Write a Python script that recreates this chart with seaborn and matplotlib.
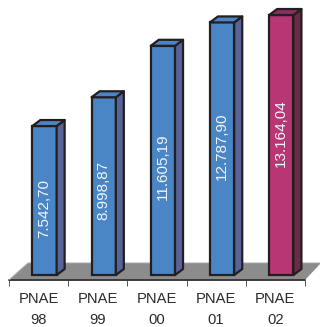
import matplotlib
matplotlib.use('Agg')
import matplotlib.pyplot as plt
import pandas as pd
import seaborn as sns
from matplotlib.patches import Polygon

# ── Data ──────────────────────────────────────────────────────────────────────
categories = ['PNAE\n98', 'PNAE\n99', 'PNAE\n00', 'PNAE\n01', 'PNAE\n02']
values = [7542.70, 8998.87, 11605.19, 12787.90, 13164.04]
value_labels = ['7.542,70', '8.998,87', '11.605,19', '12.787,90', '13.164,04']
front_colors = ['#4A86C5', '#4A86C5', '#4A86C5', '#4A86C5', '#B83674']
side_colors = ['#586399', '#586399', '#586399', '#586399', '#6B2A47']
top_colors = ['#4A86C5', '#4A86C5', '#4A86C5', '#4A86C5', '#8B2F5F']

W, H = 320, 327
PX_X = 59.2         # pixels per category
PX_Y = 0.01975      # pixels per value unit
BASE_PX = 275       # pixel row of the bar base
FLOOR_PX = 280      # pixel row of the front floor edge
FIRST_PX = 44.5     # pixel column of the first bar centre
LABEL_ROWS = [209, 190, 167, 146, 133]  # pixel row of each value label centre
EDGE = '#231F20'
LW = 1.6

sns.set_theme(style='white')
plt.rcParams['font.family'] = ['Liberation Sans', 'DejaVu Sans']


def px_x(p):
    return (p - FIRST_PX) / PX_X


def px_y(p):
    return (BASE_PX - p) / PX_Y


fig = plt.figure(figsize=(W / 100, H / 100), dpi=100)
ax = fig.add_axes([0, (H - FLOOR_PX) / H, 1, FLOOR_PX / H])

df = pd.DataFrame({'category': categories, 'value': values})
sns.barplot(data=df, x='category', y='value', hue='category', palette=front_colors,
            order=categories, legend=False, width=0.41, saturation=1,
            edgecolor=EDGE, linewidth=LW, zorder=3, ax=ax)

ax.set_xlim(px_x(0), px_x(W))
ax.set_ylim(px_y(FLOOR_PX), px_y(0))
ax.set_xlabel('')
ax.set_ylabel('')
sns.despine(ax=ax, left=True, bottom=True)
ax.set_yticks([])

# ── Floor ─────────────────────────────────────────────────────────────────────
floor = [(px_x(9), px_y(FLOOR_PX)), (px_x(305), px_y(FLOOR_PX)), (px_x(321), px_y(263)), (px_x(28), px_y(263))]
ax.add_patch(Polygon(floor, closed=True, facecolor='#8C8C8C', edgecolor='none', zorder=1))
ax.plot([px_x(9), px_x(305)], [px_y(FLOOR_PX)] * 2, color='#3A3A3A', lw=1.4, zorder=2, clip_on=False)
ax.plot([px_x(9), px_x(28), px_x(321)], [px_y(FLOOR_PX), px_y(263), px_y(263)], color='#A8A8A8', lw=0.7, zorder=2)

# category labels and boundary ticks sit left of the bars
label_shift = px_x(FIRST_PX) - px_x(38.5)
ax.set_xticks([i - label_shift for i in range(len(categories))])
ax.set_xticklabels(categories, fontsize=10.6, color='#2B2B2B', linespacing=1.65)
ax.tick_params(axis='x', which='major', length=0, pad=8.5)
ax.set_xticks([i - 0.5 - label_shift for i in range(len(categories) + 1)], minor=True)
ax.tick_params(axis='x', which='minor', bottom=True, length=4, width=0.7, color='#555555')

# ── 3D sides, tops and value labels ───────────────────────────────────────────
dx = 8 / PX_X
dy = 6 / PX_Y
for patch, side, top, text, row in zip(list(ax.patches)[:5], side_colors, top_colors, value_labels, LABEL_ROWS):
    x0 = patch.get_x()
    x1 = x0 + patch.get_width()
    h = patch.get_height()
    ax.add_patch(Polygon([(x1, 0), (x1 + dx, dy), (x1 + dx, h + dy), (x1, h)], closed=True,
                         facecolor=side, edgecolor=EDGE, linewidth=LW, joinstyle='round', zorder=3))
    ax.add_patch(Polygon([(x0, h), (x1, h), (x1 + dx, h + dy), (x0 + dx, h + dy)], closed=True,
                         facecolor=top, edgecolor=EDGE, linewidth=LW, joinstyle='round', zorder=3))
    ax.text((x0 + x1) / 2, px_y(row), text, rotation=90, ha='center', va='center',
            color='#F0F5FB', fontsize=11, zorder=4)

fig.savefig('out.png', dpi=100)
plt.close(fig)
